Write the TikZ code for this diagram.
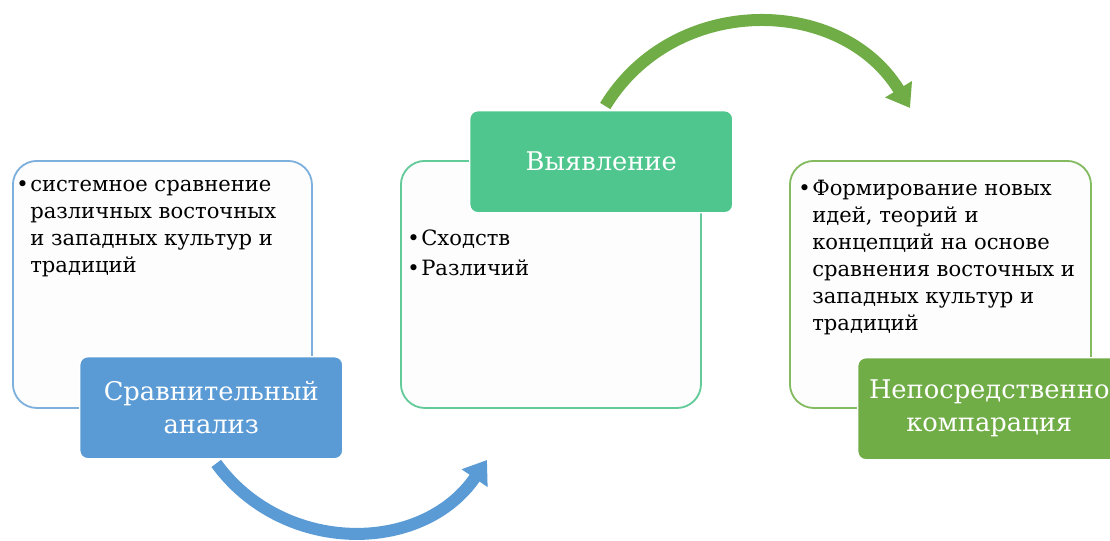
\documentclass[tikz,border=0pt]{standalone}
\usepackage{fontspec}
\newfontfamily\stepfont{DejaVu Serif}
\usepackage{tikz}
\usetikzlibrary{calc, positioning, arrows.meta}

\definecolor{blueacc}{HTML}{5B9BD5}
\definecolor{blueline}{HTML}{7EB0DE}
\definecolor{mint}{HTML}{4FC68E}
\definecolor{mintline}{HTML}{62CB99}
\definecolor{leaf}{HTML}{70AD47}
\definecolor{leafline}{HTML}{84BA60}
\definecolor{paper}{HTML}{FDFDFD}

\tikzset{
  textbox/.style={draw, fill=paper, line width=1.3pt, rounded corners=0.6cm,
    anchor=north west, minimum width=7.5cm, minimum height=6.175cm},
  headbox/.style={draw=white, line width=1pt, rounded corners=0.2cm,
    anchor=north west, minimum width=6.575cm, minimum height=2.55cm,
    text=white, align=center, font=\stepfont\fontsize{18.3}{23.5}\selectfont},
  bullets/.style={anchor=north west, inner sep=0pt, align=left,
    font=\stepfont\fontsize{15}{19.2}\selectfont},
  arcarrow/.style={line width=0.3cm, -{Triangle[length=0.55cm, width=0.75cm]}},
}

\begin{document}
\begin{tikzpicture}[x=0.025cm, y=-0.025cm]
  \useasboundingbox (0,0) rectangle (1110,540);

  % first step
  \node (box1) at (12,160) [textbox, draw=blueline, minimum width=7.475cm] {};
  \node (txt1) [bullets, below right=0.5cm and 0.45cm of box1.north west]
    {\llap{•\hspace{1pt}}системное сравнение\\различных восточных\\и западных культур и\\традиций};
  \node (lab1) at (79,356) [headbox, fill=blueacc] {Сравнительный\\анализ};

  % second step
  \node (box2) at (400,160) [textbox, draw=mintline] {};
  \node (txt2) [bullets, below right=1.75cm and 0.525cm of box2.north west]
    {\llap{•\hspace{1pt}}Сходств\\[2pt]\llap{•\hspace{1pt}}Различий};
  \node (lab2) at (469,110) [headbox, fill=mint] {Выявление};

  % third step
  \node (box3) at (789,160) [textbox, draw=leafline, minimum width=7.525cm] {};
  \node (txt3) [bullets, below right=0.5cm and 0.575cm of box3.north west]
    {\llap{•\hspace{1pt}}Формирование новых\\идей, теорий и\\концепций на основе\\сравнения восточных и\\западных культур и\\традиций};
  \node (lab3) at (857,357) [headbox, fill=leaf] {Непосредственно\\компарация};

  % arrows
  \coordinate (tip1) at (487,460);
  \coordinate (tip2) at (910,108);
  \draw [arcarrow, blueacc] ([xshift=0.125cm, yshift=-0.1cm]lab1.south)
    .. controls (283,555) and (422,555) .. (tip1);
  \draw [arcarrow, leaf] ([xshift=0.1cm, yshift=0.1cm]lab2.north)
    .. controls (674,-7) and (841,-5) .. (tip2);
\end{tikzpicture}
\end{document}
